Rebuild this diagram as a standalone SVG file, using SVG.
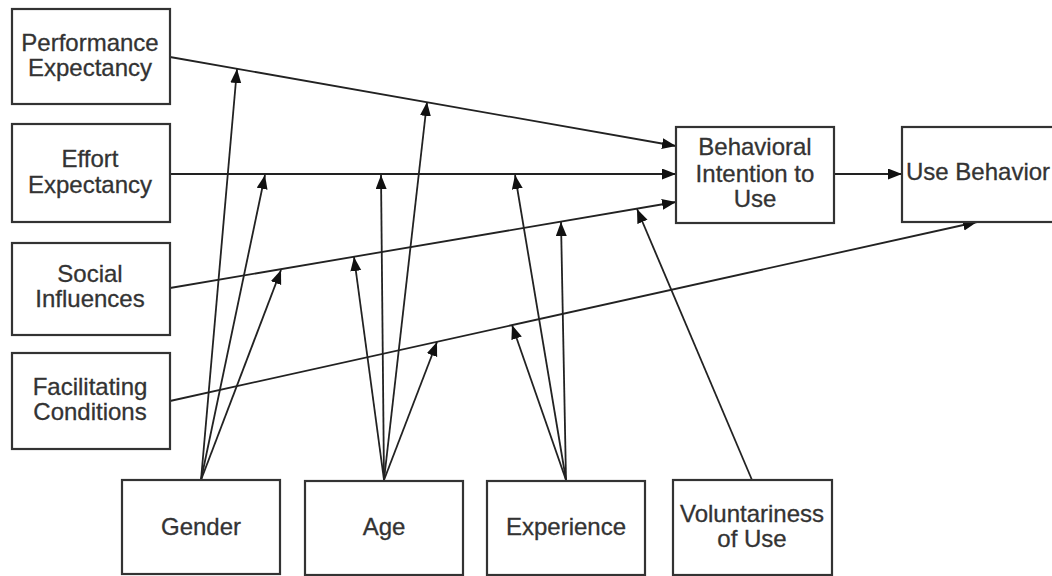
<svg xmlns="http://www.w3.org/2000/svg" width="1052" height="576" viewBox="0 0 1052 576">
<style>
.box{fill:#fff;stroke:#333;stroke-width:2.2}
.t{font-family:"Liberation Sans",Arial,sans-serif;font-size:24px;fill:#333;stroke:#333;stroke-width:0.3;text-anchor:middle}
.c{fill:none;stroke:#222;stroke-width:1.8;marker-end:url(#ah)}
</style>
<defs>
<marker id="ah" markerUnits="userSpaceOnUse" markerWidth="16" markerHeight="12" refX="14" refY="5.5" orient="auto">
<path d="M0,0 L14,5.5 L0,11 z" fill="#111"/>
</marker>
</defs>
<rect width="1052" height="576" fill="#fff"/>
<g id="connectors">
<line class="c" x1="170" y1="57" x2="676" y2="146"/>
<line class="c" x1="170" y1="174" x2="676" y2="174"/>
<line class="c" x1="170" y1="288" x2="676" y2="202"/>
<line class="c" x1="170" y1="401" x2="977" y2="222"/>
<line class="c" x1="834" y1="174" x2="902" y2="174"/>
<line class="c" x1="201" y1="480" x2="237" y2="69"/>
<line class="c" x1="201" y1="480" x2="265" y2="175"/>
<line class="c" x1="201" y1="480" x2="281" y2="270"/>
<line class="c" x1="384" y1="480" x2="427" y2="102"/>
<line class="c" x1="384" y1="480" x2="381" y2="175"/>
<line class="c" x1="384" y1="480" x2="354" y2="257"/>
<line class="c" x1="384" y1="480" x2="437" y2="342"/>
<line class="c" x1="566" y1="480" x2="515" y2="175"/>
<line class="c" x1="566" y1="480" x2="561" y2="222"/>
<line class="c" x1="566" y1="480" x2="512" y2="325"/>
<line class="c" x1="752" y1="480" x2="637" y2="209"/>
</g>
<g id="performance-expectancy">
<rect class="box" x="12" y="9" width="158" height="95"/>
<text class="t" x="90" y="51">Performance</text>
<text class="t" x="90" y="76">Expectancy</text>
</g>
<g id="effort-expectancy">
<rect class="box" x="12" y="124" width="158" height="98"/>
<text class="t" x="90" y="167">Effort</text>
<text class="t" x="90" y="193">Expectancy</text>
</g>
<g id="social-influences">
<rect class="box" x="12" y="243" width="158" height="92"/>
<text class="t" x="90" y="282">Social</text>
<text class="t" x="90" y="307">Influences</text>
</g>
<g id="facilitating-conditions">
<rect class="box" x="12" y="353" width="158" height="96"/>
<text class="t" x="90" y="395">Facilitating</text>
<text class="t" x="90" y="420">Conditions</text>
</g>
<g id="behavioral-intention">
<rect class="box" x="676" y="127" width="158" height="96"/>
<text class="t" x="755" y="155">Behavioral</text>
<text class="t" x="755" y="182">Intention to</text>
<text class="t" x="755" y="207">Use</text>
</g>
<g id="use-behavior">
<rect class="box" x="902" y="127" width="170" height="95"/>
<text class="t" x="906" y="180" style="text-anchor:start">Use Behavior</text>
</g>
<g id="gender">
<rect class="box" x="122" y="480" width="158" height="94"/>
<text class="t" x="201" y="535">Gender</text>
</g>
<g id="age">
<rect class="box" x="305" y="481" width="158" height="94"/>
<text class="t" x="384" y="535">Age</text>
</g>
<g id="experience">
<rect class="box" x="487" y="481" width="158" height="94"/>
<text class="t" x="566" y="535">Experience</text>
</g>
<g id="voluntariness">
<rect class="box" x="673" y="480" width="159" height="95"/>
<text class="t" x="752" y="522">Voluntariness</text>
<text class="t" x="752" y="547">of Use</text>
</g>
</svg>
